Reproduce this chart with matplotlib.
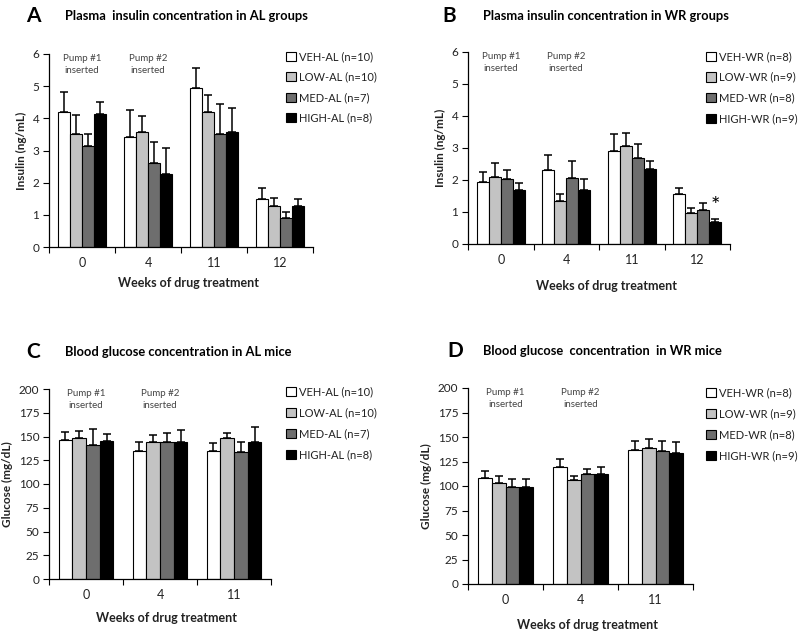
import matplotlib
matplotlib.use("Agg")
import matplotlib.pyplot as plt
from matplotlib.patches import Patch
import numpy as np

plt.rcParams['font.family'] = ['Lato', 'DejaVu Sans']

# ---------------- data ----------------
weeks_ins = ["0", "4", "11", "12"]
weeks_glu = ["0", "4", "11"]
groups = ["VEH", "LOW", "MED", "HIGH"]
bar_colors = ["#ffffff", "#c3c3c3", "#6e6e6e", "#000000"]

labels_AL = ["VEH-AL (n=10)", "LOW-AL (n=10)", "MED-AL (n=7)", "HIGH-AL (n=8)"]
labels_WR = ["VEH-WR (n=8)", "LOW-WR (n=9)", "MED-WR (n=8)", "HIGH-WR (n=9)"]

# Panel A: insulin AL (rows = groups, cols = weeks)
ins_AL = [[4.20, 3.41, 4.93, 1.50],
          [3.51, 3.58, 4.20, 1.29],
          [3.13, 2.60, 3.52, 0.90],
          [4.12, 2.27, 3.57, 1.29]]
ins_AL_err = [[0.61, 0.85, 0.63, 0.34],
              [0.59, 0.49, 0.53, 0.24],
              [0.37, 0.66, 0.93, 0.20],
              [0.38, 0.80, 0.76, 0.19]]

# Panel B: insulin WR
ins_WR = [[1.94, 2.31, 2.92, 1.55],
          [2.08, 1.33, 3.07, 0.96],
          [2.03, 2.06, 2.68, 1.05],
          [1.70, 1.70, 2.35, 0.69]]
ins_WR_err = [[0.30, 0.46, 0.51, 0.21],
              [0.46, 0.24, 0.41, 0.18],
              [0.28, 0.52, 0.44, 0.23],
              [0.21, 0.32, 0.25, 0.08]]

# Panel C: glucose AL
glu_AL = [[146.0, 135.0, 134.5],
          [148.0, 143.7, 148.0],
          [141.0, 143.7, 133.8],
          [145.0, 144.7, 144.7]]
glu_AL_err = [[9.0, 8.7, 8.5],
              [7.6, 8.3, 6.0],
              [17.0, 10.3, 10.2],
              [8.0, 12.3, 15.3]]

# Panel D: glucose WR
glu_WR = [[108.0, 119.7, 136.5],
          [102.6, 105.7, 139.0],
          [98.8, 112.0, 135.4],
          [98.8, 111.8, 134.0]]
glu_WR_err = [[7.0, 8.2, 9.9],
              [7.9, 4.8, 8.7],
              [7.9, 5.0, 10.3],
              [8.2, 7.9, 10.7]]

titles = ["Plasma  insulin concentration in AL groups",
          "Plasma insulin concentration in WR groups",
          "Blood glucose concentration in AL mice",
          "Blood glucose  concentration  in WR mice"]
letters = ["A", "B", "C", "D"]

# ---------------- figure ----------------
fig = plt.figure(figsize=(8, 6.35), dpi=100)
W, H = 800, 635


def px_axes(l, r, t, b):
    return fig.add_axes([l / W, 1 - b / H, (r - l) / W, (b - t) / H])


txt_col = "#222222"


def draw_panel(ax, weeks, vals, errs, ymax, ystep, ylabel, xl_y):
    n = len(weeks)
    x = np.arange(n)
    bw = 0.185
    for i in range(4):
        pos = x + (i - 1.5) * bw
        ax.bar(pos, vals[i], width=bw, color=bar_colors[i],
               edgecolor="black", linewidth=0.8, zorder=2)
        ax.errorbar(pos, vals[i], yerr=[np.zeros(n), errs[i]], fmt="none",
                    ecolor="black", elinewidth=1.1, capsize=3, capthick=1.1,
                    zorder=3)
    ax.set_xlim(-0.5, n - 0.5)
    ax.set_ylim(0, ymax)
    ax.set_yticks(np.arange(0, ymax + ystep / 2, ystep))
    ax.set_xticks(x)
    ax.set_xticklabels(weeks)
    ax.set_xticks(np.arange(-0.5, n, 1.0), minor=True)
    ax.tick_params(axis="x", which="major", length=0, pad=7,
                   labelsize=9, labelcolor=txt_col)
    ax.tick_params(axis="x", which="minor", length=4, direction="out",
                   width=0.8)
    ax.tick_params(axis="y", length=4, width=0.8, direction="out",
                   labelsize=8.5, labelcolor=txt_col, pad=3)
    for s in ["top", "right"]:
        ax.spines[s].set_visible(False)
    for s in ["left", "bottom"]:
        ax.spines[s].set_linewidth(0.9)
    ax.set_ylabel(ylabel, fontsize=8.5, fontweight="bold", color=txt_col,
                  labelpad=4)
    ax.set_xlabel("Weeks of drug treatment", fontsize=9, fontweight="bold",
                  color=txt_col)
    ax.xaxis.set_label_coords(0.53, xl_y)
    # pump annotations
    ax.text(0, ymax, "Pump #1\ninserted", ha="center", va="top",
            fontsize=7, color="#444444", linespacing=1.4)
    ax.text(1, ymax, "Pump #2\ninserted", ha="center", va="top",
            fontsize=7, color="#444444", linespacing=1.4)


def add_legend(ax, labels, xpx, ypx, spacing):
    handles = [Patch(facecolor=bar_colors[i], edgecolor="black",
                     linewidth=0.8) for i in range(4)]
    ax.legend(handles, labels, loc="upper left",
              bbox_to_anchor=(xpx / W, 1 - ypx / H),
              bbox_transform=fig.transFigure, frameon=False,
              handlelength=0.9, handleheight=0.9, handletextpad=0.3,
              labelspacing=spacing, borderpad=0, borderaxespad=0,
              prop={"size": 8}, labelcolor=txt_col)


axA = px_axes(49, 313, 54, 247)
draw_panel(axA, weeks_ins, ins_AL, ins_AL_err, 6, 1, "Insulin (ng/mL)", -0.155)
add_legend(axA, labels_AL, 286, 51, 0.86)

axB = px_axes(468, 730, 52, 244)
draw_panel(axB, weeks_ins, ins_WR, ins_WR_err, 6, 1, "Insulin (ng/mL)", -0.185)
add_legend(axB, labels_WR, 706, 51, 0.88)
axB.text(3 + 1.5 * 0.185, 1.2, "*", ha="center", va="center",
         fontsize=16, color="black")

axC = px_axes(49, 271, 389, 579)
draw_panel(axC, weeks_glu, glu_AL, glu_AL_err, 200, 25, "Glucose (mg/dL)", -0.175)
add_legend(axC, labels_AL, 286, 386, 0.9)

axD = px_axes(468, 693, 388, 584)
draw_panel(axD, weeks_glu, glu_WR, glu_WR_err, 200, 25, "Glucose (mg/dL)", -0.18)
add_legend(axD, labels_WR, 706, 387, 0.9)

# panel letters and titles
title_pos = [(33, 65, 16), (449, 483, 16), (33, 65, 352), (455, 483, 351)]
for (lx, tx, ty), let, tt in zip(title_pos, letters, titles):
    fig.text(lx / W, 1 - ty / H, let, fontsize=15, fontweight="bold",
             ha="center", va="center", color="black")
    fig.text(tx / W, 1 - ty / H, tt, fontsize=9.3, fontweight="bold",
             ha="left", va="center", color="black")

fig.savefig("out.png", dpi=100, facecolor="white")
